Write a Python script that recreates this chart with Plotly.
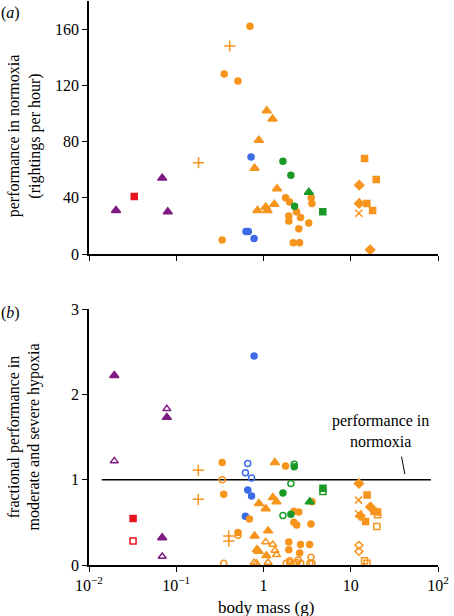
import plotly.graph_objects as go

# ---------------- DATA (panel a: performance in normoxia, rightings per hour) ----------------
a_purple_tri_mass = [0.0204, 0.069, 0.080]
a_purple_tri_val = [31, 54, 30]
a_red_sq_mass = [0.033]
a_red_sq_val = [41]
a_orange_circ_mass = [0.70, 0.355, 0.51, 0.336, 1.79, 1.99, 1.95, 2.39, 1.95, 2.66, 2.54, 3.3, 2.19, 2.59, 3.52, 3.59]
a_orange_circ_val = [162, 128, 123, 10, 40, 37, 27, 30, 23.5, 26, 18, 22, 8, 8, 40, 36]
a_orange_plus_mass = [0.41, 0.18]
a_orange_plus_val = [148, 65]
a_orange_tri_mass = [1.09, 1.27, 0.885, 0.79, 1.43, 0.855, 1.06, 1.11, 1.33]
a_orange_tri_val = [102, 96, 81, 61, 46.5, 31, 33.5, 31, 35.4]
a_blue_circ_mass = [0.72, 0.63, 0.67, 0.78]
a_blue_circ_val = [69, 16, 16, 11]
a_green_circ_mass = [1.67, 2.06, 2.27]
a_green_circ_val = [66, 56, 34]
a_green_tri_mass = [3.31]
a_green_tri_val = [44]
a_green_sq_mass = [4.78]
a_green_sq_val = [30]
a_orange_sq_mass = [14.4, 19.6, 15.3, 17.8]
a_orange_sq_val = [68, 53, 36, 31]
a_orange_dia_mass = [12.5, 12.5, 16.7]
a_orange_dia_val = [49, 36, 3]
a_orange_x_mass = [12.4]
a_orange_x_val = [29]

# ---------------- DATA (panel b: fractional performance in hypoxia) ----------------
b_purple_tri_mass = [0.0195, 0.078, 0.069]
b_purple_tri_val = [2.22, 1.73, 0.32]
b_purple_tri_open_mass = [0.0195, 0.078, 0.069]
b_purple_tri_open_val = [1.22, 1.83, 0.10]
b_red_sq_mass = [0.032]
b_red_sq_val = [0.545]
b_red_sq_open_mass = [0.032]
b_red_sq_open_val = [0.28]
b_blue_circ_mass = [0.78, 0.66, 0.73, 0.62]
b_blue_circ_val = [2.45, 0.88, 0.81, 0.57]
b_blue_circ_open_mass = [0.66, 0.62, 0.73]
b_blue_circ_open_val = [1.19, 1.08, 1.02]
b_orange_plus_mass = [0.179, 0.179, 0.40, 0.40]
b_orange_plus_val = [1.11, 0.77, 0.34, 0.28]
b_orange_circ_mass = [0.336, 0.35, 0.69, 0.51, 1.79, 2.23, 2.54, 2.23, 2.4, 3.5, 3.6, 1.95, 1.95, 2.66, 2.6, 3.38]
b_orange_circ_val = [1.2, 0.83, 0.54, 0.38, 1.16, 0.63, 0.62, 0.50, 0.47, 0.48, 0.74, 0.27, 0.18, 0.24, 0.14, 0.24]
b_orange_circ_open_mass = [0.336, 0.51, 0.35, 3.5, 1.82, 2.0, 2.23, 2.41, 2.67, 3.4, 3.6, 2.0, 2.5]
b_orange_circ_open_val = [1.0, 0.35, 0.02, 0.09, 0.02, 0.03, 0.02, 0.03, 0.02, 0.02, 0.02, 0.05, 0.06]
b_orange_tri_mass = [1.35, 0.885, 1.06, 1.28, 1.41, 0.79, 1.13, 0.84, 0.88, 1.08]
b_orange_tri_val = [1.2, 0.72, 0.66, 0.79, 0.74, 0.34, 0.40, 0.18, 0.16, 0.11]
b_orange_tri_open_mass = [1.06, 1.28, 1.35, 1.41, 0.78, 0.83, 1.13]
b_orange_tri_open_val = [0.27, 0.24, 0.17, 0.12, 0.03, 0.02, 0.03]
b_green_circ_mass = [2.25, 1.67, 2.06]
b_green_circ_val = [1.15, 0.845, 0.595]
b_green_circ_open_mass = [2.25, 2.06, 1.67]
b_green_circ_open_val = [1.18, 0.955, 0.58]
b_green_tri_mass = [3.39]
b_green_tri_val = [0.74]
b_green_sq_mass = [4.8]
b_green_sq_val = [0.9]
b_green_sq_open_mass = [4.8]
b_green_sq_open_val = [0.86]
b_orange_dia_mass = [12.4, 16.8, 12.9]
b_orange_dia_val = [0.955, 0.68, 0.575]
b_orange_dia_open_mass = [12.4, 12.4]
b_orange_dia_open_val = [0.23, 0.16]
b_orange_x_mass = [12.3, 12.3]
b_orange_x_val = [0.76, 0.60]
b_orange_sq_mass = [15.4, 18.5, 14.8, 20.3]
b_orange_sq_val = [0.82, 0.63, 0.51, 0.62]
b_orange_sq_open_mass = [20.3, 19.9, 14.4, 15.4]
b_orange_sq_open_val = [0.59, 0.45, 0.05, 0.02]

normoxia_line_mass = [0.014, 83]
normoxia_line_val = [1, 1]
leader_mass = [38.2, 41.7]
leader_val = [1.27, 1.065]

x_tick_vals = [0.01, 0.1, 1, 10, 100]
x_tick_text = ["10<sup>\u22122</sup>", "10<sup>\u22121</sup>", "1", "10", "10<sup>2</sup>"]
ya_tick_vals = [0, 40, 80, 120, 160]
yb_tick_vals = [0, 1, 2, 3]

# ---------------- STYLE ----------------
ORANGE = "#F7941D"
PURPLE = "#7E1A80"
BLUE = "#3D6BE6"
GREEN = "#1C9A28"
RED = "#E8141E"
FONT = "Liberation Serif, Times New Roman, serif"

fig = go.Figure()

sym_size = {"circle": 6, "circle-open": 6, "triangle-up": 8, "triangle-up-open": 7,
            "square": 6, "square-open": 6, "diamond": 7, "diamond-open": 6,
            "cross-thin-open": 8, "x-thin-open": 7}


def add(mass, val, symbol, color, panel):
    xa, ya = ("x", "y") if panel == "a" else ("x2", "y2")
    fig.add_trace(go.Scatter(
        x=mass, y=val, mode="markers", xaxis=xa, yaxis=ya, cliponaxis=False,
        marker=dict(symbol=symbol, color=color, size=sym_size[symbol],
                    line=dict(color=color, width=1.5)),
        showlegend=False, hoverinfo="x+y"))


# panel a
add(a_purple_tri_mass, a_purple_tri_val, "triangle-up", PURPLE, "a")
add(a_red_sq_mass, a_red_sq_val, "square", RED, "a")
add(a_orange_circ_mass, a_orange_circ_val, "circle", ORANGE, "a")
add(a_orange_plus_mass, a_orange_plus_val, "cross-thin-open", ORANGE, "a")
add(a_orange_tri_mass, a_orange_tri_val, "triangle-up", ORANGE, "a")
add(a_blue_circ_mass, a_blue_circ_val, "circle", BLUE, "a")
add(a_green_circ_mass, a_green_circ_val, "circle", GREEN, "a")
add(a_green_tri_mass, a_green_tri_val, "triangle-up", GREEN, "a")
add(a_green_sq_mass, a_green_sq_val, "square", GREEN, "a")
add(a_orange_sq_mass, a_orange_sq_val, "square", ORANGE, "a")
add(a_orange_dia_mass, a_orange_dia_val, "diamond", ORANGE, "a")
add(a_orange_x_mass, a_orange_x_val, "x-thin-open", ORANGE, "a")

# panel b
fig.add_trace(go.Scatter(x=normoxia_line_mass, y=normoxia_line_val, mode="lines",
                         xaxis="x2", yaxis="y2", line=dict(color="black", width=1.5),
                         showlegend=False, hoverinfo="skip"))
fig.add_trace(go.Scatter(x=leader_mass, y=leader_val, mode="lines",
                         xaxis="x2", yaxis="y2", line=dict(color="black", width=1),
                         showlegend=False, hoverinfo="skip"))
add(b_purple_tri_mass, b_purple_tri_val, "triangle-up", PURPLE, "b")
add(b_purple_tri_open_mass, b_purple_tri_open_val, "triangle-up-open", PURPLE, "b")
add(b_red_sq_mass, b_red_sq_val, "square", RED, "b")
add(b_red_sq_open_mass, b_red_sq_open_val, "square-open", RED, "b")
add(b_blue_circ_mass, b_blue_circ_val, "circle", BLUE, "b")
add(b_blue_circ_open_mass, b_blue_circ_open_val, "circle-open", BLUE, "b")
add(b_orange_plus_mass, b_orange_plus_val, "cross-thin-open", ORANGE, "b")
add(b_orange_circ_mass, b_orange_circ_val, "circle", ORANGE, "b")
add(b_orange_circ_open_mass, b_orange_circ_open_val, "circle-open", ORANGE, "b")
add(b_orange_tri_mass, b_orange_tri_val, "triangle-up", ORANGE, "b")
add(b_orange_tri_open_mass, b_orange_tri_open_val, "triangle-up-open", ORANGE, "b")
add(b_green_circ_mass, b_green_circ_val, "circle", GREEN, "b")
add(b_green_circ_open_mass, b_green_circ_open_val, "circle-open", GREEN, "b")
add(b_green_tri_mass, b_green_tri_val, "triangle-up", GREEN, "b")
add(b_green_sq_mass, b_green_sq_val, "square", GREEN, "b")
add(b_green_sq_open_mass, b_green_sq_open_val, "square-open", GREEN, "b")
add(b_orange_dia_mass, b_orange_dia_val, "diamond", ORANGE, "b")
add(b_orange_dia_open_mass, b_orange_dia_open_val, "diamond-open", ORANGE, "b")
add(b_orange_x_mass, b_orange_x_val, "x-thin-open", ORANGE, "b")
add(b_orange_sq_mass, b_orange_sq_val, "square", ORANGE, "b")
add(b_orange_sq_open_mass, b_orange_sq_open_val, "square-open", ORANGE, "b")

axis_common = dict(showgrid=False, zeroline=False, showline=True, linecolor="black",
                   linewidth=1.5, ticks="outside", ticklen=5, tickwidth=1.2,
                   tickcolor="black", automargin=False,
                   tickfont=dict(family=FONT, size=16, color="black"))

fig.update_layout(
    template="none",
    width=454, height=616,
    margin=dict(l=89, r=16, t=1, b=51, autoexpand=False),
    paper_bgcolor="white", plot_bgcolor="white",
    font=dict(family=FONT, size=16, color="black"),
    xaxis=dict(type="log", range=[-2, 2], domain=[0, 1], anchor="y",
               tickvals=x_tick_vals, showticklabels=False, **axis_common),
    yaxis=dict(range=[0, 180], domain=[0.5514, 1], anchor="x",
               tickvals=ya_tick_vals, **axis_common),
    xaxis2=dict(type="log", range=[-2, 2], domain=[0, 1], anchor="y2",
                tickvals=x_tick_vals, ticktext=x_tick_text, **axis_common),
    yaxis2=dict(range=[0, 3], domain=[0, 0.4539], anchor="x2",
                tickvals=yb_tick_vals, **axis_common),
    annotations=[
        dict(text="performance in normoxia<br>(rightings per hour)", textangle=-90,
             xref="paper", yref="paper", x=-0.1848, y=0.761,
             xanchor="center", yanchor="middle", showarrow=False,
             font=dict(family=FONT, size=16)),
        dict(text="fractional performance in<br>moderate and severe hypoxia", textangle=-90,
             xref="paper", yref="paper", x=-0.1848, y=0.227,
             xanchor="center", yanchor="middle", showarrow=False,
             font=dict(family=FONT, size=16)),
        dict(text="body mass (g)", xref="paper", yref="paper", x=0.507, y=-0.0745,
             xanchor="center", yanchor="middle", showarrow=False,
             font=dict(family=FONT, size=17)),
        dict(text="(<i>a</i>)", xref="paper", yref="paper", x=-0.226, y=0.9787,
             xanchor="center", yanchor="middle", showarrow=False,
             font=dict(family=FONT, size=16)),
        dict(text="(<i>b</i>)", xref="paper", yref="paper", x=-0.226, y=0.4468,
             xanchor="center", yanchor="middle", showarrow=False,
             font=dict(family=FONT, size=16)),
        dict(text="performance in<br>normoxia", xref="x2", yref="y2", x=1.345, y=1.57,
             xanchor="center", yanchor="middle", showarrow=False,
             font=dict(family=FONT, size=16)),
    ],
)

fig.write_html("out.html", config={"displayModeBar": False},
               post_script="document.body.style.margin='0';document.body.style.padding='0';")
